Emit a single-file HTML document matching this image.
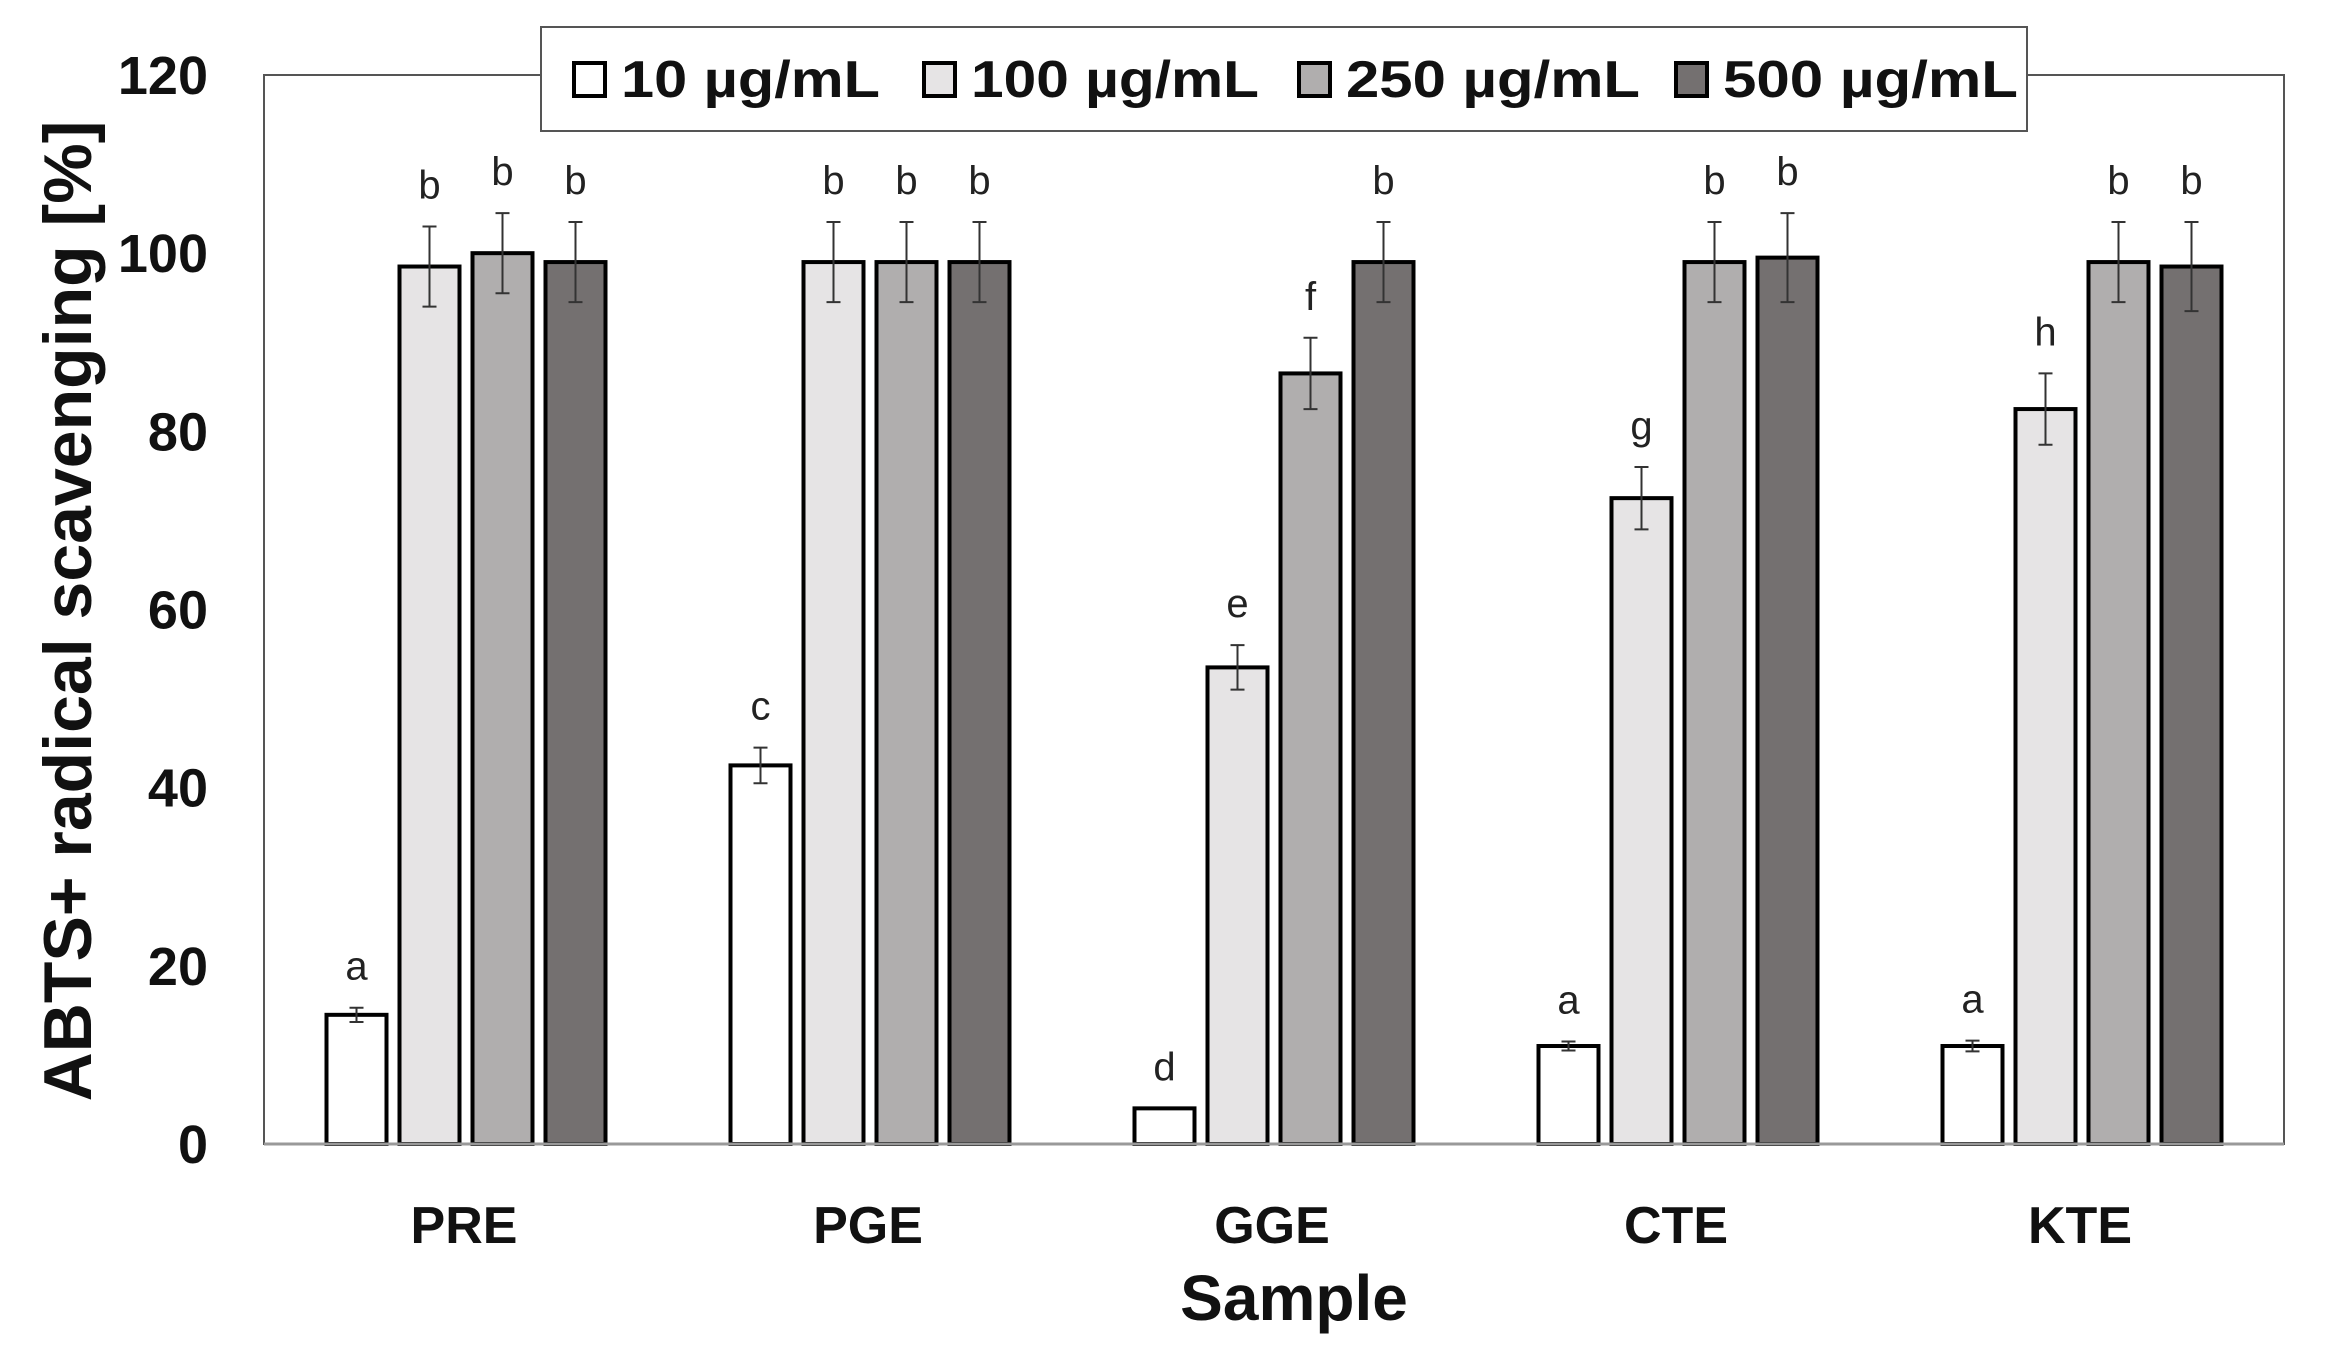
<!DOCTYPE html>
<html><head><meta charset="utf-8"><style>
body{margin:0;background:#fff;}
svg{display:block;font-family:"Liberation Sans",sans-serif;}
</style></head><body>
<svg id="chart" width="2337" height="1358"></svg>
<script>
const categories=["PRE","PGE","GGE","CTE","KTE"];
const seriesNames=["10 µg/mL","100 µg/mL","250 µg/mL","500 µg/mL"];
const s10=[14.5,42.5,4,11,11];
const s100=[98.5,99,53.5,72.5,82.5];
const s250=[100,99,86.5,99,99];
const s500=[99,99,99,99.5,98.5];
const e10=[0.8,2,0,0.5,0.6];
const e100=[4.5,4.5,2.5,3.5,4];
const e250=[4.5,4.5,4,4.5,4.5];
const e500=[4.5,4.5,4.5,5,5];
const l10=["a","c","d","a","a"];
const l100=["b","b","e","g","h"];
const l250=["b","b","f","b","b"];
const l500=["b","b","b","b","b"];
const yTicks=[0,20,40,60,80,100,120];
const colors=["#ffffff","#e6e4e5","#b0aeae","#747070"];
const NS="http://www.w3.org/2000/svg";
const svg=document.getElementById('chart');
const L=264,R=2284,T=75,B=1144,yMax=120;
const y=v=>B-(v/yMax)*(B-T);
const groupW=(R-L)/categories.length;
const gx=i=>L+groupW*(i+0.5);
const barW=60,barStep=73;
function el(t,a,txt){const e=document.createElementNS(NS,t);for(const k in a)e.setAttribute(k,a[k]);if(txt!==undefined)e.textContent=txt;svg.appendChild(e);return e;}
let e;
e=el('rect',{x:L,y:T,width:R-L,height:B-T,fill:'none',stroke:'#555','stroke-width':2});


yTicks.forEach(t=>{
 e=el('text',{x:208,y:y(t)+19,'text-anchor':'end','font-size':54,'font-weight':'bold',fill:'#111'},String(t));
 
 
});
const vals=[s10,s100,s250,s500],errs=[e10,e100,e250,e500],lets=[l10,l100,l250,l500];
categories.forEach((c,i)=>{
 for(let s=0;s<4;s++){
  const cx=gx(i)+(s-1.5)*barStep;
  const v=vals[s][i];
  e=el('rect',{x:cx-barW/2,y:y(v),width:barW,height:B-y(v),fill:colors[s],stroke:'#000','stroke-width':4});
  
  
  const er=errs[s][i];
  if(er>0){
   e=el('path',{d:`M${cx},${y(v+er)}V${y(v-er)}M${cx-7},${y(v+er)}H${cx+7}M${cx-7},${y(v-er)}H${cx+7}`,stroke:'#333','stroke-width':2,fill:'none'});
   
   
  }
  e=el('text',{x:cx,y:y(v+er)-28,'text-anchor':'middle','font-size':40,fill:'#222'},lets[s][i]);
  
  
 }
 e=el('text',{x:gx(i)-2,y:1243,'text-anchor':'middle','font-size':52,'font-weight':'bold',fill:'#111'},c);
 
 
});
e=el('line',{x1:L,y1:B,x2:R,y2:B,stroke:'#999','stroke-width':3});


e=el('text',{x:1294,y:1320,'text-anchor':'middle','font-size':64,'font-weight':'bold',fill:'#111'},'Sample');


e=el('text',{x:0,y:0,transform:'translate(91,611) rotate(-90)','text-anchor':'middle','font-size':68,'font-weight':'bold',fill:'#111'},'ABTS+ radical scavenging [%]');


e=el('rect',{x:541,y:27,width:1486,height:104,fill:'#fff',stroke:'#555','stroke-width':2});


const legX=[574,924,1299,1676];
const legLen=[259,288,294,295];
seriesNames.forEach((n,s)=>{
 e=el('rect',{x:legX[s],y:63,width:31,height:33,fill:colors[s],stroke:'#000','stroke-width':4});
 
 
 e=el('text',{x:legX[s]+47,y:97,'font-size':52,'font-weight':'bold',fill:'#111',textLength:legLen[s],lengthAdjust:'spacingAndGlyphs'},n);
 
 
});
</script>
</body></html>
